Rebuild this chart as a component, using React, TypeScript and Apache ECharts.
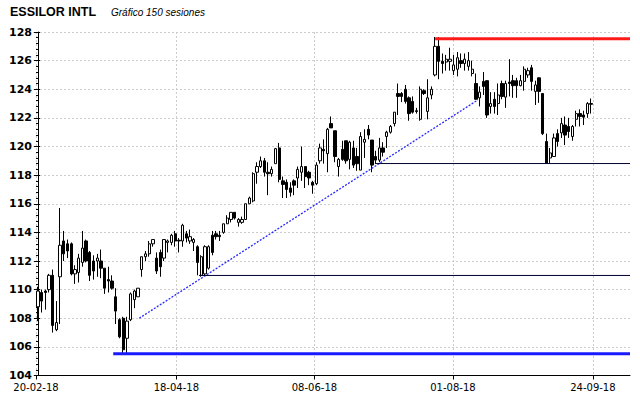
import React, { useEffect, useRef } from "react";
import * as echarts from "echarts";

const chartTitle = "ESSILOR INTL";
const chartSubtitle = "Gráfico 150 sesiones";

// x axis: 150 sessions plus empty room on the right
const slotCount = 160;
const dateLabels = ["20-02-18", "18-04-18", "08-06-18", "01-08-18", "24-09-18"];
const dateLabelPos = [-0.5, 37.3, 74.5, 111.8, 149.5];

// y axis
const yMin = 104;
const yMax = 128;
const yStep = 2;

// sessions: [open, close, low, high]
const ohlc: number[][] = [
  [108.8, 109.9, 107.8, 110.2], [109.8, 109.2, 108.4, 110.0], [109.9, 109.8, 108.6, 110.0], [110.0, 111.0, 109.8, 111.1],
  [111.0, 107.5, 107.0, 111.4], [107.2, 107.7, 107.1, 109.2], [110.9, 113.1, 107.6, 115.7], [113.4, 112.5, 112.0, 114.1],
  [113.2, 112.7, 112.2, 113.5], [113.2, 111.1, 111.0, 113.3], [111.1, 111.4, 110.4, 111.7], [111.2, 112.2, 110.5, 112.5],
  [111.9, 112.9, 111.6, 114.1], [113.4, 112.0, 111.9, 113.5], [112.6, 111.0, 110.6, 112.7], [112.0, 111.3, 110.7, 112.4],
  [112.0, 112.2, 110.9, 112.5], [112.0, 111.5, 110.8, 112.8], [111.5, 110.1, 109.7, 111.5], [110.7, 110.6, 109.8, 111.6],
  [110.6, 110.1, 110.0, 111.0], [109.5, 108.5, 107.6, 110.1], [107.9, 106.7, 106.6, 108.0], [108.0, 105.8, 105.5, 108.1],
  [106.6, 107.8, 105.5, 108.1], [107.9, 109.7, 107.8, 109.8], [109.3, 109.9, 108.7, 110.0], [109.5, 110.1, 109.5, 110.1],
  [111.4, 112.3, 110.9, 112.3], [112.3, 112.5, 112.0, 112.7], [112.5, 113.2, 112.3, 113.4], [113.2, 113.5, 113.0, 113.5],
  [112.2, 111.3, 111.1, 112.6], [112.6, 111.6, 110.9, 112.8], [112.2, 113.5, 112.0, 113.5], [113.3, 113.4, 112.6, 113.5],
  [113.3, 113.8, 113.1, 113.9], [113.9, 113.4, 113.0, 114.1], [113.45, 113.4, 112.6, 113.6], [113.4, 114.5, 113.0, 114.6],
  [113.9, 113.6, 113.3, 114.1], [113.4, 113.7, 113.2, 114.2], [113.3, 113.5, 112.7, 113.6], [113.0, 111.9, 111.0, 113.1],
  [111.0, 112.3, 110.9, 112.4], [111.1, 113.0, 111.0, 113.1], [111.5, 113.0, 111.4, 113.1], [113.8, 112.6, 112.4, 114.1],
  [113.9, 113.7, 113.5, 114.1], [113.8, 113.7, 113.4, 114.1], [114.0, 114.6, 113.9, 114.6], [114.6, 115.0, 114.6, 115.2],
  [114.9, 115.4, 114.7, 115.4], [115.4, 115.0, 114.9, 115.4], [114.7, 114.9, 114.4, 115.0], [114.7, 114.9, 114.6, 115.1],
  [114.9, 116.0, 114.9, 116.0], [116.0, 116.4, 116.0, 116.5], [116.2, 118.1, 116.1, 118.2], [118.2, 118.6, 117.4, 118.9],
  [118.6, 119.0, 118.5, 119.3], [119.0, 118.2, 117.9, 119.2], [118.2, 118.1, 116.6, 118.9], [118.1, 118.4, 117.9, 118.6],
  [118.8, 119.85, 118.8, 119.9], [119.9, 117.7, 117.5, 120.25], [117.6, 117.35, 116.4, 117.9], [117.5, 117.0, 116.4, 117.7],
  [117.1, 116.8, 116.5, 117.5], [117.6, 117.3, 116.6, 117.7], [117.8, 118.4, 117.1, 118.6], [118.2, 118.6, 117.6, 120.0],
  [118.6, 117.9, 117.1, 118.6], [118.2, 117.8, 117.3, 118.3], [117.5, 117.3, 116.7, 117.6], [117.4, 118.7, 117.3, 118.9],
  [119.0, 119.9, 118.8, 120.2], [119.8, 119.7, 118.8, 120.5], [119.5, 121.2, 118.2, 121.3], [121.6, 121.3, 121.3, 122.1],
  [121.1, 119.3, 118.9, 121.1], [118.6, 119.1, 117.9, 119.2], [119.8, 119.1, 119.0, 120.4], [120.4, 119.0, 118.8, 120.4],
  [119.1, 120.3, 118.4, 120.4], [119.9, 118.7, 118.5, 120.4], [119.3, 118.8, 118.3, 119.9], [118.35, 120.7, 118.35, 121.0],
  [120.3, 120.5, 119.2, 121.2], [121.2, 120.8, 120.5, 121.5], [120.45, 118.7, 118.2, 120.45], [119.3, 119.05, 118.8, 119.7],
  [119.05, 119.9, 118.9, 120.6], [119.9, 119.6, 119.3, 120.3], [120.7, 121.0, 119.9, 121.1], [121.0, 121.4, 120.9, 121.5],
  [121.6, 122.4, 121.4, 122.4], [123.7, 123.5, 122.2, 124.4], [123.7, 123.5, 123.1, 123.8], [124.0, 123.15, 123.0, 124.3],
  [123.4, 122.3, 121.8, 123.5], [123.15, 122.4, 122.3, 123.5], [122.5, 122.45, 122.3, 122.7], [121.9, 124.0, 121.8, 124.2],
  [123.9, 123.7, 123.6, 124.0], [122.45, 123.4, 121.9, 124.7], [123.6, 124.0, 123.3, 124.2], [125.0, 127.0, 124.9, 127.65],
  [127.0, 125.95, 124.7, 127.65], [125.95, 125.8, 125.1, 126.5], [125.9, 126.1, 125.3, 126.4], [125.95, 126.1, 125.3, 126.9],
  [125.3, 125.7, 125.0, 126.4], [125.4, 126.2, 124.9, 126.6], [126.0, 125.8, 125.5, 126.5], [125.8, 126.1, 125.3, 126.5],
  [125.6, 126.0, 125.3, 126.6], [125.1, 125.4, 124.9, 126.0], [124.4, 123.3, 123.3, 125.1], [123.4, 123.8, 122.8, 124.2],
  [124.55, 124.2, 123.6, 125.2], [124.6, 122.2, 122.0, 124.6], [122.8, 123.0, 122.3, 123.8], [123.3, 122.8, 122.3, 123.8],
  [123.0, 123.6, 122.2, 124.4], [124.4, 123.5, 123.3, 124.6], [123.45, 124.4, 122.7, 124.6], [124.5, 124.4, 123.5, 126.1],
  [124.6, 124.25, 123.4, 125.0], [124.6, 124.25, 123.4, 124.8], [124.25, 124.6, 124.2, 125.0], [124.55, 125.4, 123.9, 125.6],
  [125.0, 125.3, 124.8, 125.5], [125.5, 124.55, 123.9, 125.7], [123.85, 124.3, 122.9, 124.6], [124.8, 123.85, 123.05, 124.8],
  [123.7, 120.9, 120.8, 123.7], [120.35, 118.85, 118.85, 120.9], [119.2, 119.55, 118.85, 119.9], [119.3, 120.6, 119.3, 120.9],
  [120.9, 120.35, 120.0, 121.2], [120.95, 121.6, 120.6, 122.0], [121.5, 120.8, 120.1, 122.1], [121.4, 121.05, 120.6, 122.0],
  [120.7, 121.4, 120.4, 121.5], [121.9, 122.3, 121.4, 122.5], [122.3, 122.1, 121.4, 122.6], [122.2, 122.05, 121.5, 122.5],
  [122.3, 123.0, 122.0, 123.1], [123.0, 122.95, 122.3, 123.35],
];

// drawn levels: [start session, value]
const resistanceLine = [107, 127.52];
const supportLine = [20.3, 105.52];
const level111 = [43.4, 110.99];
const level119 = [90.8, 118.81];
// trend line: [[session, value], [session, value]]
const trendLine = [
  [27.3, 108.0],
  [118.5, 123.25],
];

const categories = Array.from({ length: slotCount }, (_, i) => String(i));

export default function App() {
  const ref = useRef<HTMLDivElement>(null);
  useEffect(() => {
    if (!ref.current) return;
    const chart = echarts.init(ref.current, null, { renderer: "svg" });
    const xEnd = slotCount - 0.5;
    const gridLine = { show: true, lineStyle: { color: "#cccccc", type: [2, 2], width: 1 } };
    const levelSeries = (lvl: number[], color: string, width: number) => ({
      type: "line",
      xAxisIndex: 1,
      yAxisIndex: 0,
      data: [
        [lvl[0], lvl[1]],
        [xEnd, lvl[1]],
      ],
      symbol: "none",
      silent: true,
      lineStyle: { color, width },
      z: 5,
    });
    chart.setOption({
      animation: false,
      backgroundColor: "#ffffff",
      graphic: [
        {
          type: "text",
          left: 10,
          top: 5,
          style: { text: chartTitle, font: "bold 12.5px 'Liberation Sans', Arial, sans-serif", fill: "#000" },
        },
        {
          type: "text",
          left: 111,
          top: 7,
          style: { text: chartSubtitle, font: "italic 10px 'Liberation Sans', Arial, sans-serif", fill: "#000" },
        },
      ],
      grid: { left: 36, right: 10, top: 32, bottom: 22.5, containLabel: false },
      xAxis: [
        {
          type: "category",
          data: categories,
          boundaryGap: true,
          show: false,
        },
        {
          type: "value",
          min: -0.5,
          max: xEnd,
          position: "bottom",
          axisLine: { show: true, onZero: false, lineStyle: { color: "#000", width: 1 } },
          axisTick: { show: true, length: 4, customValues: dateLabelPos, lineStyle: { color: "#000" } },
          axisLabel: {
            show: true,
            customValues: dateLabelPos,
            margin: 7,
            color: "#000",
            fontFamily: "'DejaVu Sans', sans-serif",
            fontSize: 10,
            formatter: (v: number) => {
              let best = 0;
              dateLabelPos.forEach((p, i) => {
                if (Math.abs(p - v) < Math.abs(dateLabelPos[best] - v)) best = i;
              });
              return dateLabels[best];
            },
          },
          splitLine: gridLine,
        },
      ],
      yAxis: [
        {
          type: "value",
          min: yMin,
          max: yMax,
          interval: yStep,
          axisLine: { show: true, lineStyle: { color: "#000", width: 1 } },
          axisTick: { show: true, length: 4, lineStyle: { color: "#000" } },
          axisLabel: {
            color: "#000",
            fontWeight: "bold",
            fontFamily: "'DejaVu Sans', sans-serif",
            fontSize: 11,
            margin: 4,
          },
          splitLine: gridLine,
        },
        {
          type: "value",
          min: yMin,
          max: yMax,
          interval: yStep,
          position: "left",
          axisLine: { show: false },
          axisTick: { show: true, inside: true, length: 4, lineStyle: { color: "#000" } },
          minorTick: { show: true, splitNumber: 5, length: 2, lineStyle: { color: "#000" } },
          axisLabel: { show: false },
          splitLine: { show: false },
        },
      ],
      series: [
        {
          type: "candlestick",
          xAxisIndex: 0,
          yAxisIndex: 0,
          data: ohlc,
          barWidth: 2.8,
          itemStyle: {
            color: "#ffffff",
            color0: "#000000",
            borderColor: "#000000",
            borderColor0: "#000000",
            borderWidth: 1,
          },
          z: 3,
        },
        levelSeries(resistanceLine, "#ff1a1a", 3),
        levelSeries(supportLine, "#1a1aff", 3),
        levelSeries(level111, "#000033", 1),
        levelSeries(level119, "#000033", 1),
        {
          type: "line",
          xAxisIndex: 1,
          yAxisIndex: 0,
          data: trendLine,
          symbol: "none",
          silent: true,
          lineStyle: { color: "#2828ff", width: 1.3, type: [2, 1.5] },
          z: 4,
        },
      ],
    });
    return () => chart.dispose();
  }, []);
  return <div ref={ref} style={{ position: "fixed", left: 0, top: 0, width: 640, height: 398 }} />;
}
